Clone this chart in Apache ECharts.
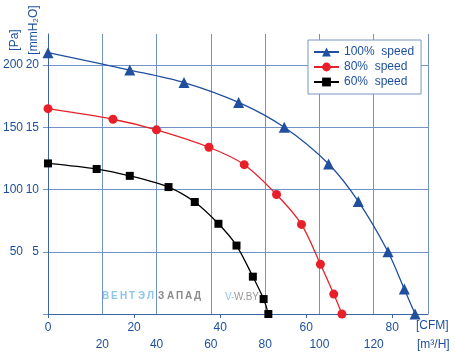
<!DOCTYPE html>
<html>
<head>
<meta charset="utf-8">
<script src="https://cdn.jsdelivr.net/npm/echarts@6/dist/echarts.min.js"></script>
<style>
html,body{margin:0;padding:0;background:#fff;}
#chart{width:455px;height:359px;}
</style>
</head>
<body>
<div id="chart"></div>
<script>
// Data (x in CFM, y in Pa)
const seriesNames = ['100%  speed', '80%  speed', '60%  speed'];
const cfm100 = [0, 19.0, 31.6, 44.3, 54.9, 65.2, 72.1, 79.0, 82.8, 85.3];
const pa100  = [210, 196, 186, 170, 150, 120.5, 90.5, 50, 20, 0];
const cfm80  = [0, 15.1, 25.2, 37.4, 45.6, 53.1, 58.9, 63.3, 66.4, 68.3];
const pa80   = [165, 156.5, 148, 134, 120, 96, 72, 40, 16, 0];
const cfm60  = [0, 11.3, 19.0, 28.0, 34.1, 39.6, 43.8, 47.6, 50.1, 51.2];
const pa60   = [121, 116.5, 111, 102, 90, 72.5, 55, 30, 12, 0];

const cfmTicks = [0, 20, 40, 60, 80];
const m3hLabels = [20, 40, 60, 80, 100, 120];
const paLabels = [50, 100, 150, 200];
const mmLabels = [5, 10, 15, 20];
const mmTicks = [0, 5, 10, 15, 20];

const zip = (xs, ys) => xs.map((x, i) => [x, ys[i]]);

const blue = '#1d4f9c';
const gridCol = '#7293c8';
const axisCol = '#3f64a3';
const font = '"Liberation Sans", Arial, Helvetica, sans-serif';

const chart = echarts.init(document.getElementById('chart'), null, {renderer: 'canvas'});

function spaced(str, x0, step, color) {
  return str.split('').map((ch, i) => ({
    type: 'text', z: -1, silent: true,
    x: x0 + i * step, y: 296,
    style: {text: ch, fill: color, font: 'bold 10px ' + font, textAlign: 'left', textVerticalAlign: 'middle'}
  }));
}

const option = {
  animation: false,
  backgroundColor: '#fff',
  grid: {left: 48, right: 27, top: 34, bottom: 45, containLabel: false},
  legend: {
    orient: 'vertical', left: 308, top: 40,
    backgroundColor: '#fff', borderColor: '#7b95c2', borderWidth: 1,
    padding: [6, 7, 6, 5], itemGap: 3, itemWidth: 25, itemHeight: 11,
    textStyle: {color: blue, fontSize: 12, fontFamily: font, lineHeight: 12},
    data: seriesNames
  },
  xAxis: [
    {
      type: 'value', min: 0, max: 88.3, position: 'bottom',
      axisLine: {show: true, lineStyle: {color: axisCol, width: 1}},
      axisTick: {show: true, length: 4, customValues: cfmTicks, lineStyle: {color: axisCol}},
      axisLabel: {customValues: cfmTicks, color: blue, fontSize: 12, fontFamily: font, margin: 8},
      splitLine: {show: false}
    },
    {
      type: 'value', min: 0, max: 140, interval: 20, position: 'bottom',
      axisLine: {show: false}, axisTick: {show: false},
      axisLabel: {customValues: m3hLabels, color: blue, fontSize: 12, fontFamily: font, margin: 25},
      splitLine: {show: true, lineStyle: {color: gridCol, width: 1}}
    }
  ],
  yAxis: [
    {
      type: 'value', min: 0, max: 22.5, interval: 2.5, position: 'left',
      axisLine: {show: true, lineStyle: {color: axisCol, width: 1}},
      axisTick: {show: true, length: 5, customValues: mmTicks, lineStyle: {color: gridCol}},
      axisLabel: {customValues: mmLabels, color: blue, fontSize: 12, fontFamily: font, margin: 9},
      splitLine: {show: true, lineStyle: {color: gridCol, width: 1}}
    },
    {
      type: 'value', min: 0, max: 225, interval: 25, position: 'left',
      axisLine: {show: false}, axisTick: {show: false},
      axisLabel: {customValues: paLabels, color: blue, fontSize: 12, fontFamily: font, margin: 25},
      splitLine: {show: false}
    }
  ],
  graphic: [
    {type: 'text', x: 15, y: 40, rotation: Math.PI / 2, silent: true,
     style: {text: '[Pa]', fill: blue, font: '12px ' + font, textAlign: 'center', textVerticalAlign: 'middle'}},
    {type: 'text', x: 34, y: 30, rotation: Math.PI / 2, silent: true,
     style: {text: '[mmH₂O]', fill: blue, font: '12px ' + font, textAlign: 'center', textVerticalAlign: 'middle'}},
    {type: 'text', x: 416, y: 326, silent: true,
     style: {text: '[CFM]', fill: blue, font: '12px ' + font, textAlign: 'left', textVerticalAlign: 'middle'}},
    {type: 'text', x: 417, y: 345, silent: true,
     style: {text: '[m³/H]', fill: blue, font: '12px ' + font, textAlign: 'left', textVerticalAlign: 'middle'}},
    ...spaced('ВЕНТЭЛ', 102, 9, '#8ec5ea'),
    ...spaced('ЗАПАД', 158, 9, '#8a8a8a'),
    {type: 'text', x: 225, y: 297, z: -1, silent: true,
     style: {text: 'V-', fill: '#8ec5ea', font: '10px ' + font, textAlign: 'left', textVerticalAlign: 'middle'}},
    {type: 'text', x: 234, y: 297, z: -1, silent: true,
     style: {text: 'W.BY', fill: '#9a9a9a', font: '10px ' + font, textAlign: 'left', textVerticalAlign: 'middle'}}
  ],
  series: [
    {
      name: seriesNames[0], type: 'line', xAxisIndex: 0, yAxisIndex: 1,
      data: zip(cfm100, pa100), smooth: 0.3,
      symbol: 'triangle', symbolSize: 11,
      lineStyle: {color: '#1f4f9e', width: 1.3}, itemStyle: {color: '#1f4f9e'}
    },
    {
      name: seriesNames[1], type: 'line', xAxisIndex: 0, yAxisIndex: 1,
      data: zip(cfm80, pa80), smooth: 0.3,
      symbol: 'circle', symbolSize: 9,
      lineStyle: {color: '#e8202a', width: 1.3}, itemStyle: {color: '#e8202a'}
    },
    {
      name: seriesNames[2], type: 'line', xAxisIndex: 0, yAxisIndex: 1,
      data: zip(cfm60, pa60), smooth: 0.3,
      symbol: 'rect', symbolSize: 8,
      lineStyle: {color: '#000', width: 1.3}, itemStyle: {color: '#000'}
    }
  ]
};
chart.setOption(option);
</script>
</body>
</html>
